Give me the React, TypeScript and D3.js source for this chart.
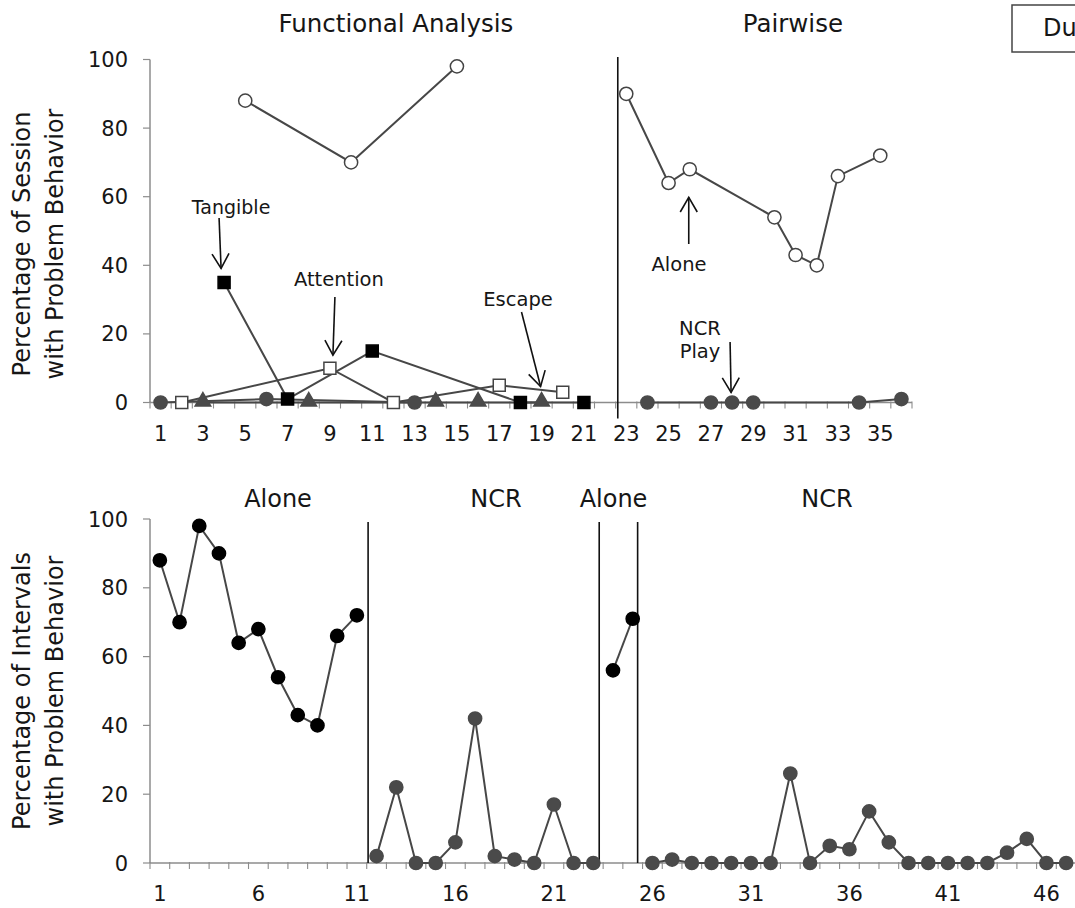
import React from 'react';
import * as d3 from 'd3';

const W = 1075;
const H = 908;
const FONT = "'DejaVu Sans', Verdana, sans-serif";
const LINE = '#474747';
const AXIS = '#8c8c8c';
const TXT = '#161616';

// ---------- Top panel (Functional Analysis / Pairwise) : [session, percent]
const faAlone: [number, number][] = [[5, 88], [10, 70], [15, 98]];
const pwAlone: [number, number][] = [[23, 90], [25, 64], [26, 68], [30, 54], [31, 43], [32, 40], [33, 66], [35, 72]];
const tangible: [number, number][] = [[4, 35], [7, 1], [11, 15], [18, 0], [21, 0]];
const attention: [number, number][] = [[2, 0], [9, 10], [12, 0], [17, 5], [20, 3]];
const escape: [number, number][] = [[3, 0], [8, 0], [14, 0], [16, 0], [19, 0]];
const faPlay: [number, number][] = [[1, 0], [6, 1], [13, 0]];
const pwPlay: [number, number][] = [[24, 0], [27, 0], [28, 0], [29, 0], [34, 0], [36, 1]];
const topXTicks = [1, 3, 5, 7, 9, 11, 13, 15, 17, 19, 21, 23, 25, 27, 29, 31, 33, 35];
const topSessions = 36;
const topPhaseLines = [22.6];
const topPhaseLabels = ['Functional Analysis', 'Pairwise'];

// ---------- Bottom panel (treatment evaluation)
const alone1: [number, number][] = [[1, 88], [2, 70], [3, 98], [4, 90], [5, 64], [6, 68], [7, 54], [8, 43], [9, 40], [10, 66], [11, 72]];
const ncr1: [number, number][] = [[12, 2], [13, 22], [14, 0], [15, 0], [16, 6], [17, 42], [18, 2], [19, 1], [20, 0], [21, 17], [22, 0], [23, 0]];
const alone2: [number, number][] = [[24, 56], [25, 71]];
const ncr2: [number, number][] = [[26, 0], [27, 1], [28, 0], [29, 0], [30, 0], [31, 0], [32, 0], [33, 26], [34, 0], [35, 5], [36, 4], [37, 15], [38, 6], [39, 0], [40, 0], [41, 0], [42, 0], [43, 0], [44, 3], [45, 7], [46, 0], [47, 0]];
const botXTicks = [1, 6, 11, 16, 21, 26, 31, 36, 41, 46];
const botSessions = 47;
const botPhaseLines = [11.57, 23.3, 25.25];
const botPhaseLabels = ['Alone', 'NCR', 'Alone', 'NCR'];

const yTicks = [0, 20, 40, 60, 80, 100];

// scales
const xT = d3.scaleLinear().domain([0.5, topSessions + 0.5]).range([150, 912]);
const yT = d3.scaleLinear().domain([0, 100]).range([402.5, 59.5]);
const xB = d3.scaleLinear().domain([0.5, botSessions + 0.5]).range([150, 1076]);
const yB = d3.scaleLinear().domain([0, 100]).range([863, 519]);

type S = d3.ScaleLinear<number, number>;

function Axes({ x, y, xTicks, n }: { x: S; y: S; xTicks: number[]; n: number }) {
  const y0 = y(0);
  const [xa, xb] = x.range();
  const bounds = d3.range(0, n + 1).map((i) => i + 0.5);
  return (
    <g>
      <line x1={xa} x2={xa} y1={y(100)} y2={y0} stroke={AXIS} strokeWidth={1.5} />
      {yTicks.map((t) => (
        <g key={t}>
          <line x1={xa - 7} x2={xa} y1={y(t)} y2={y(t)} stroke={AXIS} strokeWidth={1.2} />
          <text x={xa - 22} y={y(t)} dy="0.36em" textAnchor="end" fontSize={21} fill={TXT} fontFamily={FONT}>
            {t}
          </text>
        </g>
      ))}
      <line x1={xa} x2={xb} y1={y0} y2={y0} stroke={AXIS} strokeWidth={1.5} />
      {bounds.map((b) => (
        <line key={b} x1={x(b)} x2={x(b)} y1={y0 - 1} y2={y0 + 6} stroke={AXIS} strokeWidth={1.1} />
      ))}
      {xTicks.map((t) => (
        <text key={t} x={x(t)} y={y0 + 38} textAnchor="middle" fontSize={21} fill={TXT} fontFamily={FONT}>
          {t}
        </text>
      ))}
    </g>
  );
}

function Path({ data, x, y }: { data: [number, number][]; x: S; y: S }) {
  const gen = d3.line<[number, number]>().x((d) => x(d[0])).y((d) => y(d[1]));
  return <path d={gen(data) || ''} fill="none" stroke={LINE} strokeWidth={2} />;
}

function Markers({ data, x, y, kind, fill, stroke }: { data: [number, number][]; x: S; y: S; kind: 'circle' | 'square' | 'triangle'; fill: string; stroke: string }) {
  const sym =
    kind === 'square' ? d3.symbol(d3.symbolSquare, 144) : kind === 'triangle' ? d3.symbol(d3.symbolTriangle, 105) : null;
  return (
    <g>
      {data.map((d, i) =>
        sym ? (
          <path key={i} d={sym() || ''} transform={`translate(${x(d[0])},${y(d[1]) - (kind === 'triangle' ? 1 : 0)})`} fill={fill} stroke={stroke} strokeWidth={1.5} />
        ) : (
          <circle key={i} cx={x(d[0])} cy={y(d[1])} r={6.6} fill={fill} stroke={stroke} strokeWidth={1.5} />
        )
      )}
    </g>
  );
}

function Arrow({ x1, y1, x2, y2 }: { x1: number; y1: number; x2: number; y2: number }) {
  const a = Math.atan2(y2 - y1, x2 - x1);
  const L = 17;
  const s = (30 * Math.PI) / 180;
  const p1 = [x2 - L * Math.cos(a - s), y2 - L * Math.sin(a - s)];
  const p2 = [x2 - L * Math.cos(a + s), y2 - L * Math.sin(a + s)];
  return (
    <g stroke="#111" strokeWidth={1.6} fill="none">
      <line x1={x1} y1={y1} x2={x2} y2={y2} />
      <polyline points={`${p1[0]},${p1[1]} ${x2},${y2} ${p2[0]},${p2[1]}`} />
    </g>
  );
}

function Label({ x, y, children, size = 19.5, anchor = 'middle' }: { x: number; y: number; children: React.ReactNode; size?: number; anchor?: string }) {
  return (
    <text x={x} y={y} textAnchor={anchor as any} fontSize={size} fill={TXT} fontFamily={FONT}>
      {children}
    </text>
  );
}

export default function App() {
  const topCenters = [(xT(0.5) + xT(topPhaseLines[0])) / 2 + 12, (xT(topPhaseLines[0]) + xT(topSessions + 0.5)) / 2 + 28];
  const botEdges = [xB(0.5), ...botPhaseLines.map((p) => xB(p)), xB(botSessions + 0.5)];
  const botCenters = [278, 496, 613.5, 827];

  return (
    <svg width={W} height={H} style={{ position: 'absolute', left: 0, top: 0, background: '#fff' }} fontFamily={FONT}>
      <rect width={W} height={H} fill="#fff" />

      {/* ---------- top panel ---------- */}
      {topPhaseLabels.map((t, i) => (
        <Label key={t} x={topCenters[i]} y={32} size={24.5}>
          {t}
        </Label>
      ))}
      <rect x={1012} y={5} width={120} height={47} fill="none" stroke="#444" strokeWidth={1.5} />
      <Label x={1043} y={36} size={24} anchor="start">Du</Label>

      <g transform={`translate(30,${(yT(0) + yT(100)) / 2 + 13}) rotate(-90)`}>
        <text textAnchor="middle" fontSize={24} fill={TXT} fontFamily={FONT}>Percentage of Session</text>
        <text y={33} textAnchor="middle" fontSize={24} fill={TXT} fontFamily={FONT}>with Problem Behavior</text>
      </g>

      <Axes x={xT} y={yT} xTicks={topXTicks} n={topSessions} />

      {topPhaseLines.map((p) => (
        <line key={p} x1={xT(p)} x2={xT(p)} y1={57} y2={yT(0) + 16} stroke="#111" strokeWidth={1.6} />
      ))}

      {[faAlone, pwAlone, tangible, attention, escape, faPlay, pwPlay].map((s, i) => (
        <Path key={i} data={s} x={xT} y={yT} />
      ))}
      <Markers data={faPlay} x={xT} y={yT} kind="circle" fill="#4a4a4a" stroke="#4a4a4a" />
      <Markers data={pwPlay} x={xT} y={yT} kind="circle" fill="#4a4a4a" stroke="#4a4a4a" />
      <Markers data={escape} x={xT} y={yT} kind="triangle" fill="#4a4a4a" stroke="#4a4a4a" />
      <Markers data={attention} x={xT} y={yT} kind="square" fill="#fff" stroke="#444" />
      <Markers data={tangible} x={xT} y={yT} kind="square" fill="#000" stroke="#000" />
      <Markers data={faAlone} x={xT} y={yT} kind="circle" fill="#fff" stroke="#444" />
      <Markers data={pwAlone} x={xT} y={yT} kind="circle" fill="#fff" stroke="#444" />

      {/* annotations */}
      <Label x={xT(4) + 7} y={214} size={19}>Tangible</Label>
      <Arrow x1={xT(4) - 5} y1={218} x2={xT(4) - 3} y2={yT(35) - 14} />
      <Label x={xT(9) + 9} y={286}>Attention</Label>
      <Arrow x1={xT(9) + 5} y1={297} x2={xT(9) + 3} y2={yT(10) - 13} />
      <Label x={518} y={306}>Escape</Label>
      <Arrow x1={521.5} y1={312} x2={xT(19) - 1} y2={yT(0) - 16} />
      <Label x={679} y={271}>Alone</Label>
      <Arrow x1={xT(26) - 1} y1={244} x2={xT(26) - 1} y2={yT(68) + 28} />
      <Label x={700} y={335}>NCR</Label>
      <Label x={700} y={358}>Play</Label>
      <Arrow x1={xT(28) - 2} y1={342} x2={xT(28) - 1} y2={yT(0) - 10} />

      {/* ---------- bottom panel ---------- */}
      {botPhaseLabels.map((t, i) => (
        <Label key={i} x={botCenters[i] ?? (botEdges[i] + botEdges[i + 1]) / 2} y={507} size={24}>
          {t}
        </Label>
      ))}

      <g transform={`translate(30,${(yB(0) + yB(100)) / 2}) rotate(-90)`}>
        <text textAnchor="middle" fontSize={24} fill={TXT} fontFamily={FONT}>Percentage of Intervals</text>
        <text y={33} textAnchor="middle" fontSize={24} fill={TXT} fontFamily={FONT}>with Problem Behavior</text>
      </g>

      <Axes x={xB} y={yB} xTicks={botXTicks} n={botSessions} />

      {botPhaseLines.map((p) => (
        <line key={p} x1={xB(p)} x2={xB(p)} y1={522} y2={yB(0)} stroke="#111" strokeWidth={1.6} />
      ))}

      {[alone1, ncr1, alone2, ncr2].map((s, i) => (
        <Path key={i} data={s} x={xB} y={yB} />
      ))}
      <Markers data={alone1} x={xB} y={yB} kind="circle" fill="#000" stroke="#000" />
      <Markers data={alone2} x={xB} y={yB} kind="circle" fill="#000" stroke="#000" />
      <Markers data={ncr1} x={xB} y={yB} kind="circle" fill="#4a4a4a" stroke="#4a4a4a" />
      <Markers data={ncr2} x={xB} y={yB} kind="circle" fill="#4a4a4a" stroke="#4a4a4a" />
    </svg>
  );
}
